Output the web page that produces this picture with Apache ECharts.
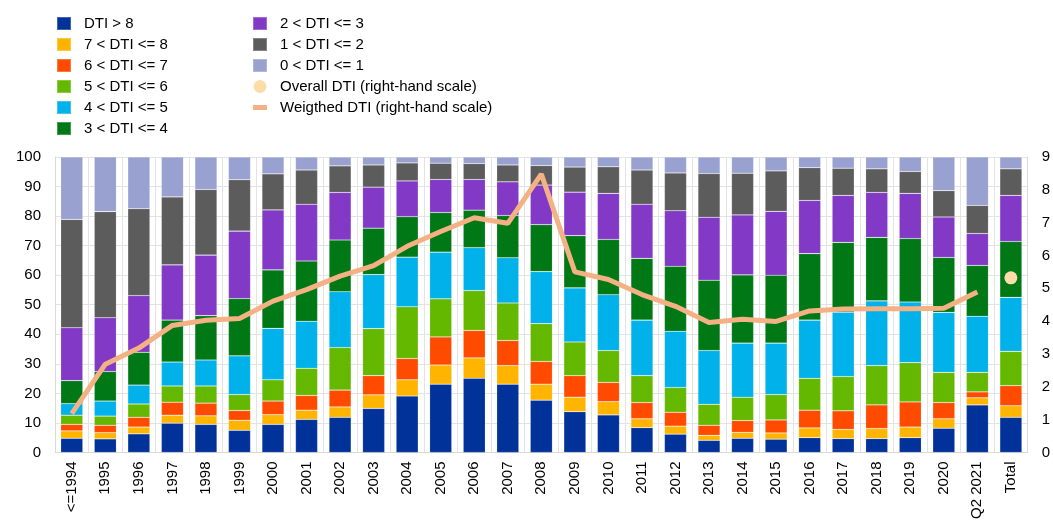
<!DOCTYPE html>
<html lang="en">
<head>
<meta charset="UTF-8">
<title>DTI distribution</title>
<script src="https://cdn.jsdelivr.net/npm/echarts@6/dist/echarts.min.js"></script>
<style>
  html, body { margin: 0; padding: 0; background: #fff; }
</style>
</head>
<body>
<div id="main" style="width:1053px;height:522px;"></div>
<script type="text/javascript">
// categories (x axis)
var categories = ['<=1994', '1995', '1996', '1997', '1998', '1999', '2000', '2001', '2002', '2003',
  '2004', '2005', '2006', '2007', '2008', '2009', '2010', '2011', '2012', '2013',
  '2014', '2015', '2016', '2017', '2018', '2019', '2020', 'Q2 2021', 'Total'];

// shares in % per DTI bucket (bottom to top of the stack)
var dtiAbove8 = [4.8, 4.6, 6.3, 9.9, 9.5, 7.5, 9.5, 11.2, 11.9, 14.9, 19.1, 23.1, 25.1, 23.1, 17.7, 13.8, 12.7, 8.4, 6.2, 4.1, 4.8, 4.5, 5.0, 4.7, 4.7, 5.0, 8.2, 16.1, 11.9];
var dti7to8   = [2.5, 2.1, 2.3, 2.7, 2.9, 3.4, 3.3, 3.1, 3.5, 4.6, 5.5, 6.5, 6.9, 6.3, 5.4, 4.9, 4.5, 3.0, 2.7, 1.7, 2.0, 2.1, 3.3, 3.1, 3.4, 3.6, 3.2, 2.4, 3.9];
var dti6to7   = [2.2, 2.5, 3.3, 4.4, 4.3, 3.3, 4.6, 5.0, 5.7, 6.5, 7.2, 9.5, 9.3, 8.5, 7.7, 7.3, 6.5, 5.5, 4.7, 3.4, 4.0, 4.4, 6.0, 6.3, 8.0, 8.5, 5.5, 2.0, 6.8];
var dti5to6   = [3.1, 3.1, 4.5, 5.5, 5.8, 5.4, 7.2, 9.2, 14.4, 15.9, 17.5, 12.9, 13.5, 12.7, 12.8, 11.4, 10.8, 9.1, 8.4, 7.1, 7.9, 8.6, 10.8, 11.6, 13.3, 13.3, 10.2, 6.6, 11.6];
var dti4to5   = [3.9, 5.1, 6.4, 8.1, 8.8, 13.1, 17.4, 15.9, 18.9, 18.3, 16.8, 15.8, 14.5, 15.3, 17.6, 18.3, 18.9, 18.8, 19.0, 18.2, 18.3, 17.4, 19.7, 21.8, 21.9, 20.5, 20.3, 19.0, 18.3];
var dti3to4   = [7.8, 10.0, 11.1, 14.2, 15.0, 19.4, 19.8, 20.4, 17.5, 15.7, 13.7, 13.4, 12.7, 14.3, 15.9, 17.7, 18.7, 20.9, 22.0, 23.8, 23.1, 23.0, 22.5, 23.6, 21.5, 21.5, 18.6, 17.2, 18.9];
var dti2to3   = [17.9, 18.2, 19.2, 18.7, 20.5, 22.8, 20.3, 19.2, 16.1, 13.9, 12.1, 11.2, 10.4, 11.4, 13.4, 14.7, 15.6, 18.3, 18.8, 21.3, 20.3, 21.6, 18.0, 15.9, 15.2, 15.3, 13.7, 10.8, 15.6];
var dti1to2   = [36.7, 35.9, 29.4, 23.0, 22.2, 17.4, 12.2, 11.6, 9.0, 7.5, 6.1, 5.5, 5.4, 5.7, 6.6, 8.5, 9.0, 11.6, 12.8, 14.8, 14.1, 13.7, 11.1, 9.2, 8.0, 7.4, 8.9, 9.5, 9.0];
var dti0to1   = [21.1, 18.5, 17.5, 13.5, 11.0, 7.7, 5.7, 4.4, 3.0, 2.7, 2.0, 2.1, 2.2, 2.7, 2.9, 3.4, 3.3, 4.4, 5.4, 5.6, 5.5, 4.7, 3.6, 3.8, 4.0, 4.9, 11.4, 16.4, 4.0];

// right-hand scale
var weightedDti = [1.18, 2.69, 3.18, 3.87, 4.03, 4.08, 4.61, 4.96, 5.37, 5.69, 6.28, 6.73, 7.15, 6.98, 8.48, 5.50, 5.27, 4.81, 4.45, 3.96, 4.06, 3.99, 4.31, 4.37, 4.38, 4.38, 4.39, 4.89, null];
var overallDti = [null, null, null, null, null, null, null, null, null, null, null, null, null, null, null, null, null, null, null, null, null, null, null, null, null, null, null, null, 5.32];

var leftTicks = [0, 100, 10];
var rightTicks = [0, 9, 1];

var buckets = [
  { name: 'DTI > 8', data: dtiAbove8, color: '#003299' },
  { name: '7 < DTI <= 8', data: dti7to8, color: '#FFB400' },
  { name: '6 < DTI <= 7', data: dti6to7, color: '#FF4B00' },
  { name: '5 < DTI <= 6', data: dti5to6, color: '#65B800' },
  { name: '4 < DTI <= 5', data: dti4to5, color: '#00B1EA' },
  { name: '3 < DTI <= 4', data: dti3to4, color: '#007816' },
  { name: '2 < DTI <= 3', data: dti2to3, color: '#8139C6' },
  { name: '1 < DTI <= 2', data: dti1to2, color: '#5C5C5C' },
  { name: '0 < DTI <= 1', data: dti0to1, color: '#98A1D0' }
];

var font = '"Liberation Sans", Arial, sans-serif';
var myChart = echarts.init(document.getElementById('main'));

var series = buckets.map(function (b) {
  return {
    name: b.name,
    type: 'bar',
    stack: 'dti',
    barCategoryGap: '34%',
    itemStyle: { color: b.color, borderColor: 'rgba(255,255,255,0.25)', borderWidth: 0.6 },
    data: b.data
  };
});
series.push({
  name: 'Overall DTI (right-hand scale)',
  type: 'scatter',
  yAxisIndex: 1,
  symbolSize: 13,
  itemStyle: { color: '#FCDCA8', opacity: 1 },
  data: overallDti,
  z: 5
});
series.push({
  name: 'Weigthed DTI (right-hand scale)',
  type: 'line',
  yAxisIndex: 1,
  showSymbol: false,
  symbol: 'none',
  lineStyle: { color: '#F4B183', width: 5 },
  itemStyle: { color: '#F4B183' },
  data: weightedDti,
  z: 4
});

var legendText = { fontFamily: font, fontSize: 15, color: '#000', padding: [0, 0, 0, 8] };

var option = {
  animation: false,
  backgroundColor: '#fff',
  textStyle: { fontFamily: font },
  legend: [
    {
      orient: 'vertical',
      left: 51, top: 11,
      itemWidth: 14, itemHeight: 13, itemGap: 6,
      textStyle: legendText,
      data: buckets.slice(0, 6).map(function (b) { return { name: b.name, icon: 'rect' }; })
    },
    {
      orient: 'vertical',
      left: 247, top: 11,
      itemWidth: 14, itemHeight: 13, itemGap: 6,
      textStyle: legendText,
      data: buckets.slice(6).map(function (b) { return { name: b.name, icon: 'rect' }; }).concat([
        { name: 'Overall DTI (right-hand scale)', icon: 'circle' },
        { name: 'Weigthed DTI (right-hand scale)', icon: 'path://M0,0H14V5H0Z' }
      ])
    }
  ],
  grid: { left: 55, right: 24, top: 157, bottom: 68 },
  xAxis: {
    type: 'category',
    data: categories,
    axisLine: { lineStyle: { color: '#d9d9d9' } },
    axisTick: { show: false },
    splitLine: { show: true, lineStyle: { color: '#e3e3e3', width: 1 } },
    axisLabel: { rotate: 90, fontSize: 15, color: '#000', margin: 9, interval: 0, fontFamily: font }
  },
  yAxis: [
    {
      type: 'value',
      min: leftTicks[0], max: leftTicks[1], interval: leftTicks[2],
      axisLine: { show: true, lineStyle: { color: '#d9d9d9' } },
      axisTick: { show: false },
      splitLine: { lineStyle: { color: '#e3e3e3' } },
      axisLabel: { fontSize: 15, color: '#000', margin: 14, fontFamily: font }
    },
    {
      type: 'value',
      min: rightTicks[0], max: rightTicks[1], interval: rightTicks[2],
      axisLine: { show: true, lineStyle: { color: '#d9d9d9' } },
      axisTick: { show: false },
      splitLine: { show: false },
      axisLabel: { fontSize: 15, color: '#000', margin: 14, fontFamily: font }
    }
  ],
  series: series
};

myChart.setOption(option);
</script>
</body>
</html>
